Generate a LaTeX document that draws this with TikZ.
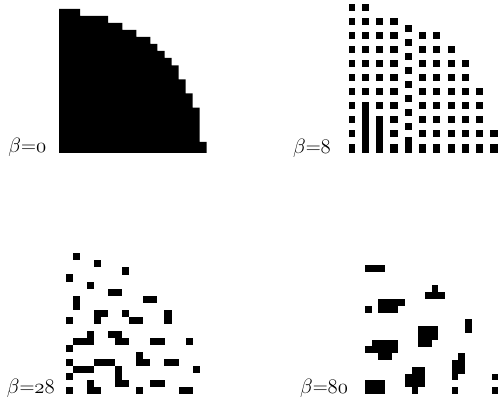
\documentclass[tikz,border=0pt]{standalone}
\newcommand\osnum[1]{{\usefont{OML}{cmm}{m}{it}#1}}
\tikzset{
  pix/.style={fill=black},
  lab/.style={inner sep=0pt, anchor=base west, font=\fontsize{20.74}{24}\selectfont}
}
\begin{document}
\begin{tikzpicture}[x=1pt,y=-1pt]
\useasboundingbox (0,0) rectangle (499,403);
% ---------- beta = 0 : solid quarter disc ----------
\fill[pix] (59,153) -- (59,9) -- (80.1,9) -- (80.1,16) -- (108.2,16) -- (108.2,23)
  -- (122.3,23) -- (122.3,30) -- (136.4,30) -- (136.4,37) -- (150.4,37) -- (150.4,44)
  -- (157.4,44) -- (157.4,51) -- (164.5,51) -- (164.5,58) -- (171.5,58) -- (171.5,65.5)
  -- (178.5,65.5) -- (178.5,79.5) -- (185.6,79.5) -- (185.6,93.5) -- (192.6,93.5)
  -- (192.6,107.7) -- (199.6,107.7) -- (199.6,142) -- (206.7,142) -- (206.7,153) -- cycle;
% ---------- beta = 8 ----------
\begin{scope}
\clip (349,0) rectangle (499,153.3);
\foreach \k/\rows in {
  0/{0,2,4,6,8,10,12,14,16,18,20},
  2/{0,2,4,6,8,10,12,14,15,16,17,18,19,20},
  4/{2,4,6,8,10,12,14,16,17,18,19,20},
  6/{2,4,6,8,10,12,14,16,18,20},
  8/{3,5,7,9,11,13,15,17,19,20},
  10/{4,6,8,10,12,14,16,18,20},
  12/{4,6,8,10,12,14,16,18,20},
  14/{6,8,10,12,14,16,18,20},
  16/{8,10,12,14,16,18,20},
  18/{12,14,16,18,20},
  20/{18,20}}{
  \foreach \j in \rows {
    \pgfmathsetmacro\hh{(\j==20)?8.6:7.1}
    \fill[pix] ({347.7+7.13*\k},{4.3+7*\j}) rectangle ++(7.2,\hh);
  }
}
\end{scope}
% ---------- beta = 28 ----------
\foreach \c/\r in {2/1, 5/2, 9/3, 1/4, 4/5, 7/6, 8/6, 2/7, 2/8, 12/7, 13/7,
  5/9, 6/9, 5/10, 9/9, 10/10, 11/10, 15/9, 15/10, 1/10, 4/12, 2/13, 3/13, 4/13,
  7/12, 8/12, 8/13, 9/13, 13/13, 14/13, 18/13, 1/14, 11/15, 11/16, 12/16, 1/16,
  5/16, 6/16, 7/16, 15/16, 16/16, 2/17, 3/17, 4/17, 8/17, 8/18, 8/19, 9/19,
  19/17, 1/18, 4/19, 4/20, 5/20, 13/19, 14/19, 1/20, 11/20, 17/20, 18/20}{
  \fill[pix] ({59+7.03*\c},{246.3+7.05*\r}) rectangle ++(7.1,7.1);
}
% ---------- beta = 80 ----------
\foreach \k/\j in {0/0, 1/0, 2/0, 10/3, 9/4, 10/4, 11/4,
  2/5, 3/5, 4/5, 5/5, 0/6, 2/6, 3/6, 4/6, 15/8, 15/9,
  8/9, 9/9, 10/9, 8/10, 9/10, 10/10, 8/11, 9/11,
  1/11, 2/11, 3/11, 4/11, 0/12, 1/12, 2/12, 3/12, 4/12, 2/13, 3/13,
  14/13, 13/14, 14/14, 13/15, 14/15, 13/16, 13/18, 19/16, 19/18,
  7/15, 8/15, 6/16, 7/16, 8/16, 6/17, 7/17, 8/17, 7/18,
  0/17, 1/17, 2/17, 0/18, 1/18, 2/18}{
  \fill[pix] ({365+6.67*\k},{265+6.79*\j}) rectangle ++(6.75,6.85);
}
% ---------- labels ----------
\node[lab] (l0)  at (8.3,152.7) {$\beta$=\osnum{0}};
\node[lab] (l8)  at (293,153.3) {$\beta$=\osnum{8}};
\node[lab] (l28) at (6.7,393.5) {$\beta$=\osnum{28}};
\node[lab] (l80) at (300,393.5) {$\beta$=\osnum{80}};
\end{tikzpicture}
\end{document}
